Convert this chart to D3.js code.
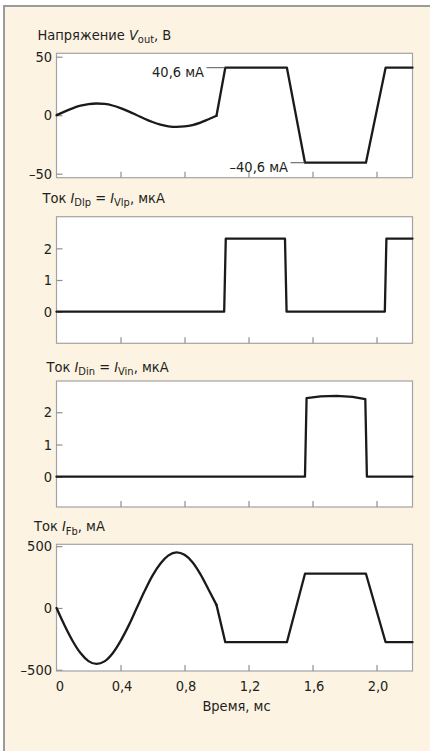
<!DOCTYPE html>
<html>
<head>
<meta charset="utf-8">
<script src="https://cdn.jsdelivr.net/npm/d3@7"></script>
<style>
  html, body { margin: 0; padding: 0; background: #ffffff; }
  svg { display: block; }
  text { font-family: "Liberation Sans Narrow", "Arial Narrow", "DejaVu Sans Condensed", sans-serif; fill: #231f20; }
</style>
</head>
<body>
<svg id="chart" width="430" height="751"></svg>
<script>
// Time axis (ms)
const timeTicks = [0, 0.4, 0.8, 1.2, 1.6, 2.0];
const timeTickLabels = ["0", "0,4", "0,8", "1,2", "1,6", "2,0"];

// Output voltage V_out (V): sinusoidal part, then clipped trapezoid
const tSine = [0, 0.05, 0.1, 0.15, 0.2, 0.25, 0.3, 0.35, 0.4, 0.45, 0.5,
               0.55, 0.6, 0.65, 0.7, 0.75, 0.8, 0.85, 0.9, 0.95, 1.0];
const voutSine = [0, 3.1, 5.9, 8.1, 9.5, 10, 9.6, 8.3, 6.1, 3.3, 0.2,
                  -3.0, -5.8, -8.0, -9.5, -10, -9.6, -8.4, -6.3, -3.4, -0.5];
const tStep = [1.0, 1.055, 1.44, 1.553, 1.934, 2.057, 2.225];
const voutStep = [-0.5, 40.6, 40.6, -40.6, -40.6, 40.6, 40.6];

// Diode current I_Dlp = I_Vlp (uA)
const tDlp = [0, 1.048, 1.058, 1.428, 1.438, 2.052, 2.062, 2.225];
const iDlp = [0, 0, 2.31, 2.31, 0, 0, 2.31, 2.31];

// Diode current I_Din = I_Vin (uA)
const tDin = [0, 1.553, 1.563, 1.65, 1.75, 1.85, 1.93, 1.94, 2.225];
const iDin = [0, 0, 2.44, 2.49, 2.51, 2.48, 2.41, 0, 0];

// Feedback current I_Fb (mA)
const ifbSine = [0, -140, -265, -365, -430, -452, -432, -368, -268, -145, -5,
                 135, 262, 360, 425, 450, 430, 370, 272, 150, 25];
const ifbStep = [25, -277, -277, 277, 277, -277, -277];

// Annotation labels on the V_out panel
const voutMarks = [
  { value: 40.6, text: "40,6 мА", xText: 204, tEnd: 1.055 },
  { value: -40.6, text: "\u201340,6 мА", xText: 288, tEnd: 1.553 }
];

const svg = d3.select("#chart");
const W = 430, H = 751;

// Page frame
svg.append("rect").attr("x", 0).attr("y", 0).attr("width", W).attr("height", H).attr("fill", "#ffffff");
svg.append("rect").attr("x", 3).attr("y", 5).attr("width", W - 3).attr("height", H - 5).attr("fill", "#fcf3e2");
svg.append("line").attr("x1", 4).attr("x2", 4).attr("y1", 5).attr("y2", H).attr("stroke", "#9b9b9b").attr("stroke-width", 2);
svg.append("line").attr("x1", 3).attr("x2", W).attr("y1", 6).attr("y2", 6).attr("stroke", "#9b9b9b").attr("stroke-width", 2);

const left = 56.5, right = 412.5;
const x = d3.scaleLinear().domain([0, 2.225]).range([left, right]);

const panels = [
  { top: 53.3, bottom: 177.7, domain: [-53.4, 52.9], ticks: [50, 0, -50], tickLabels: ["50", "0", "\u201350"],
    title: [["Напряжение ", ""], ["V", "i"], ["out", "s"], [", В", ""]], titleX: 37.5, titleY: 39.5 },
  { top: 216.7, bottom: 343.3, domain: [-1, 3], ticks: [2, 1, 0], tickLabels: ["2", "1", "0"],
    title: [["Ток ", ""], ["I", "i"], ["Dlp", "s"], [" = ", ""], ["I", "i"], ["Vlp", "s"], [", мкА", ""]], titleX: 42.5, titleY: 202.5 },
  { top: 381, bottom: 507, domain: [-0.94, 2.97], ticks: [2, 1, 0], tickLabels: ["2", "1", "0"],
    title: [["Ток ", ""], ["I", "i"], ["Din", "s"], [" = ", ""], ["I", "i"], ["Vin", "s"], [", мкА", ""]], titleX: 46.5, titleY: 371.5 },
  { top: 544.3, bottom: 671, domain: [-510, 515], ticks: [500, 0, -500], tickLabels: ["500", "0", "\u2013500"],
    title: [["Ток ", ""], ["I", "i"], ["Fb", "s"], [", мА", ""]], titleX: 34, titleY: 531 }
];

const lineLinear = (sx, sy) => d3.line().x(d => sx(d[0])).y(d => sy(d[1]));
const lineSmooth = (sx, sy) => d3.line().curve(d3.curveMonotoneX).x(d => sx(d[0])).y(d => sy(d[1]));

panels.forEach((p, i) => {
  const y = d3.scaleLinear().domain(p.domain).range([p.bottom, p.top]);
  p.y = y;
  const g = svg.append("g");

  // plot area
  g.append("rect").attr("x", left).attr("y", p.top).attr("width", right - left).attr("height", p.bottom - p.top)
    .attr("fill", "#ffffff").attr("stroke", "#a3a3a3").attr("stroke-width", 1.2);

  // inward y ticks
  const yAxis = d3.axisRight(y).tickValues(p.ticks).tickSize(6).tickFormat("");
  const ya = g.append("g").attr("transform", `translate(${left},0)`).call(yAxis);
  ya.select(".domain").remove();
  ya.selectAll(".tick line").attr("stroke", "#8f8f8f").attr("stroke-width", 1.2);

  // y tick labels
  g.selectAll(".ylab").data(p.ticks).enter().append("text")
    .attr("x", 52).attr("y", d => y(d)).attr("dy", "0.36em")
    .attr("text-anchor", "end").attr("font-size", 14.5)
    .text((d, k) => p.tickLabels[k]);

  // inward x ticks on the bottom edge
  const xAxis = d3.axisTop(x).tickValues(timeTicks.slice(1)).tickSize(6).tickFormat("");
  const xa = g.append("g").attr("transform", `translate(0,${p.bottom})`).call(xAxis);
  xa.select(".domain").remove();
  xa.selectAll(".tick line").attr("stroke", "#8f8f8f").attr("stroke-width", 1.2);

  // panel title with italic symbols and subscripts
  const t = g.append("text").attr("x", p.titleX).attr("y", p.titleY).attr("font-size", 14.5);
  let shifted = false;
  p.title.forEach(([s, kind]) => {
    const sp = t.append("tspan").text(s);
    if (kind === "i") sp.attr("font-style", "italic");
    if (kind === "s") { sp.attr("font-size", 11).attr("dy", 3.5); shifted = true; }
    else if (shifted) { sp.attr("dy", -3.5); shifted = false; }
  });
});

// curves
const stroke = "#1a1a1a", sw = 2.3;
function drawPath(data, p, gen) {
  svg.append("path").datum(data).attr("d", gen(x, p.y))
    .attr("fill", "none").attr("stroke", stroke).attr("stroke-width", sw)
    .attr("stroke-linejoin", "round").attr("stroke-linecap", "round");
}
const zip = (a, b) => a.map((v, k) => [v, b[k]]);

drawPath(zip(tSine, voutSine), panels[0], lineSmooth);
drawPath(zip(tStep, voutStep), panels[0], lineLinear);
drawPath(zip(tDlp, iDlp), panels[1], lineLinear);
drawPath(zip(tDin, iDin), panels[2], lineLinear);
drawPath(zip(tSine, ifbSine), panels[3], lineSmooth);
drawPath(zip(tStep, ifbStep), panels[3], lineLinear);

// value annotations with leader lines
voutMarks.forEach(m => {
  const yy = panels[0].y(m.value);
  svg.append("line").attr("x1", m.xText + 2.5).attr("x2", x(m.tEnd)).attr("y1", yy).attr("y2", yy)
    .attr("stroke", "#555555").attr("stroke-width", 1);
  svg.append("text").attr("x", m.xText).attr("y", yy + 9.5).attr("text-anchor", "end")
    .attr("font-size", 14.5).text(m.text);
});

// time tick labels and axis title under the last panel
const last = panels[3];
svg.selectAll(".xlab").data(timeTicks).enter().append("text")
  .attr("x", d => x(d) + (d === 0 ? 3.5 : 1.5)).attr("y", last.bottom + 20)
  .attr("text-anchor", "middle").attr("font-size", 14.5)
  .text((d, k) => timeTickLabels[k]);
svg.append("text").attr("x", (left + right) / 2 + 2).attr("y", last.bottom + 40)
  .attr("text-anchor", "middle").attr("font-size", 14.5).text("Время, мс");
</script>
</body>
</html>
